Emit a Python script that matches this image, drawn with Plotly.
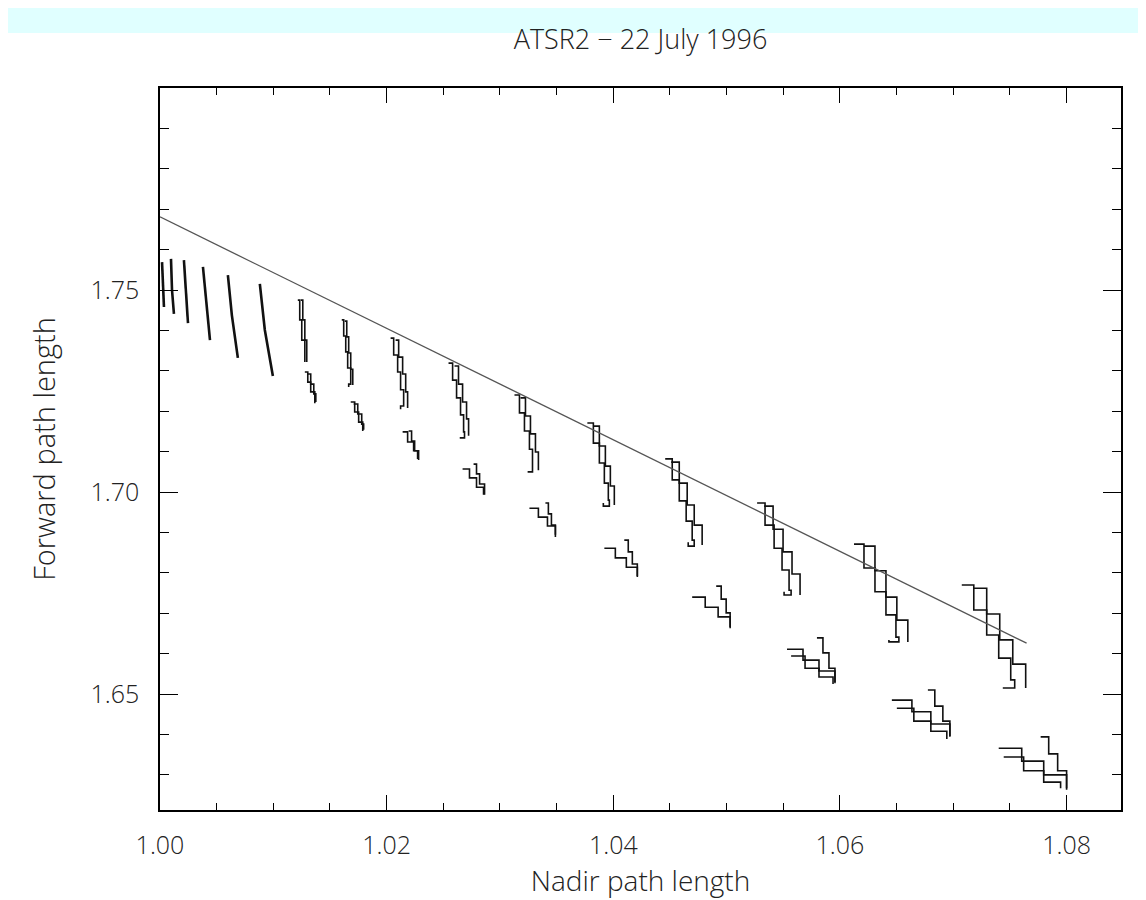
import plotly.graph_objects as go

# ---------------- data ----------------
title_text = "ATSR2 \u2212 22 July 1996"
x_title = "Nadir path length"
y_title = "Forward path length"

x_ticks = [1.00, 1.02, 1.04, 1.06, 1.08]
y_ticks = [1.65, 1.70, 1.75]

# fitted straight line
fit_x = [1.0000, 1.07647]
fit_y = [1.7681, 1.6626]

# early (near-vertical) strokes A-F
early_x = [
    [1.00018, 1.00026, 1.00035],
    [1.00097, 1.00106, 1.00123],
    [1.00211, 1.00229, 1.00247],
    [1.00379, 1.00405, 1.00441],
    [1.00599, 1.00634, 1.00687],
    [1.00881, 1.00925, 1.00996],
]
early_y = [
    [1.7569, 1.7500, 1.7458],
    [1.7577, 1.7500, 1.7441],
    [1.7574, 1.7488, 1.7418],
    [1.7557, 1.7475, 1.7376],
    [1.7537, 1.7438, 1.7332],
    [1.7515, 1.7401, 1.7287],
]

# upper tracks (G..P): first and second staircase
upper_a_x = [
    [1.01216, 1.01233, 1.01251, 1.01278],
    [1.01604, 1.01621, 1.01639, 1.01656, 1.01683, 1.01665],
    [1.02035, 1.02062, 1.02097, 1.02123, 1.02150, 1.02123],
    [1.02546, 1.02582, 1.02617, 1.02652, 1.02679, 1.02687, 1.02652],
    [1.03128, 1.03172, 1.03216, 1.03260, 1.03287, 1.03287, 1.03251],
    [1.03771, 1.03824, 1.03877, 1.03921, 1.03956, 1.03965, 1.03912],
    [1.04458, 1.04520, 1.04582, 1.04643, 1.04696, 1.04714, 1.04661],
    [1.05269, 1.05339, 1.05419, 1.05489, 1.05551, 1.05569, 1.05507],
    [1.06124, 1.06212, 1.06309, 1.06406, 1.06494, 1.06520, 1.06432],
    [1.07075, 1.07181, 1.07295, 1.07401, 1.07507, 1.07542, 1.07437],
]
upper_a_y = [
    [1.7475, 1.7426, 1.7376, 1.7322],
    [1.7426, 1.7386, 1.7347, 1.7307, 1.7267, 1.7260],
    [1.7381, 1.7339, 1.7297, 1.7253, 1.7213, 1.7205],
    [1.7319, 1.7277, 1.7233, 1.7191, 1.7149, 1.7134, 1.7136],
    [1.7240, 1.7196, 1.7151, 1.7106, 1.7067, 1.7050, 1.7052],
    [1.7171, 1.7121, 1.7072, 1.7022, 1.6980, 1.6965, 1.6973],
    [1.7082, 1.7030, 1.6978, 1.6928, 1.6881, 1.6866, 1.6876],
    [1.6973, 1.6918, 1.6861, 1.6807, 1.6757, 1.6745, 1.6753],
    [1.6871, 1.6812, 1.6753, 1.6696, 1.6641, 1.6629, 1.6634],
    [1.6770, 1.6708, 1.6646, 1.6589, 1.6535, 1.6515, 1.6515],
]
upper_b_x = [
    [1.01242, 1.01260, 1.01278, 1.01295],
    [1.01630, 1.01648, 1.01665, 1.01683, 1.01701],
    [1.02079, 1.02106, 1.02141, 1.02168, 1.02185],
    [1.02599, 1.02634, 1.02670, 1.02705, 1.02723],
    [1.03181, 1.03225, 1.03269, 1.03313, 1.03339],
    [1.03824, 1.03877, 1.03930, 1.03974, 1.04009],
    [1.04511, 1.04582, 1.04652, 1.04714, 1.04784],
    [1.05331, 1.05410, 1.05498, 1.05577, 1.05648],
    [1.06212, 1.06309, 1.06406, 1.06502, 1.06599],
    [1.07181, 1.07295, 1.07410, 1.07525, 1.07639],
]
upper_b_y = [
    [1.7475, 1.7426, 1.7376, 1.7322],
    [1.7423, 1.7384, 1.7344, 1.7304, 1.7265],
    [1.7376, 1.7334, 1.7292, 1.7248, 1.7208],
    [1.7312, 1.7267, 1.7223, 1.7181, 1.7139],
    [1.7233, 1.7188, 1.7144, 1.7099, 1.7054],
    [1.7163, 1.7114, 1.7064, 1.7015, 1.6968],
    [1.7074, 1.7022, 1.6968, 1.6918, 1.6869],
    [1.6965, 1.6908, 1.6852, 1.6797, 1.6745],
    [1.6866, 1.6805, 1.6740, 1.6683, 1.6629],
    [1.6762, 1.6698, 1.6634, 1.6574, 1.6515],
]

# lower tracks (G..P): shallow diagonal, steep branch, extra diagonal
lower_a_x = [
    [1.01278, 1.01304, 1.01330, 1.01366],
    [1.01683, 1.01718, 1.01753, 1.01789],
    [1.02141, 1.02185, 1.02238, 1.02282],
    [1.02670, 1.02731, 1.02793, 1.02855],
    [1.03260, 1.03339, 1.03419, 1.03489],
    [1.03921, 1.04018, 1.04115, 1.04212],
    [1.04696, 1.04811, 1.04925, 1.05031],
    [1.05533, 1.05674, 1.05815, 1.05956],
    [1.06458, 1.06635, 1.06802, 1.06970],
    [1.07401, 1.07604, 1.07798, 1.08000],
]
lower_a_y = [
    [1.7297, 1.7272, 1.7248, 1.7220],
    [1.7223, 1.7198, 1.7173, 1.7151],
    [1.7149, 1.7124, 1.7102, 1.7079],
    [1.7057, 1.7035, 1.7012, 1.6993],
    [1.6960, 1.6938, 1.6916, 1.6894],
    [1.6861, 1.6837, 1.6814, 1.6792],
    [1.6740, 1.6715, 1.6691, 1.6666],
    [1.6611, 1.6584, 1.6557, 1.6530],
    [1.6485, 1.6456, 1.6426, 1.6396],
    [1.6366, 1.6334, 1.6300, 1.6267],
]
lower_b_x = [
    [1.01304, 1.01330, 1.01357, 1.01375],
    [1.01709, 1.01745, 1.01780, 1.01797],
    [1.02194, 1.02220, 1.02247, 1.02273],
    [1.02767, 1.02793, 1.02820, 1.02864],
    [1.03401, 1.03427, 1.03454, 1.03489],
    [1.04097, 1.04132, 1.04168, 1.04212],
    [1.04908, 1.04952, 1.04996, 1.05031],
    [1.05797, 1.05850, 1.05903, 1.05956],
    [1.06776, 1.06837, 1.06908, 1.06970],
    [1.07771, 1.07842, 1.07921, 1.08000],
]
lower_b_y = [
    [1.7292, 1.7267, 1.7243, 1.7223],
    [1.7218, 1.7193, 1.7168, 1.7154],
    [1.7151, 1.7126, 1.7102, 1.7082],
    [1.7069, 1.7045, 1.7020, 1.6993],
    [1.6973, 1.6946, 1.6918, 1.6889],
    [1.6881, 1.6852, 1.6822, 1.6790],
    [1.6767, 1.6735, 1.6701, 1.6663],
    [1.6639, 1.6602, 1.6564, 1.6527],
    [1.6510, 1.6470, 1.6433, 1.6394],
    [1.6394, 1.6352, 1.6310, 1.6263],
]
lower_c_x = [
    [1.05569, 1.05692, 1.05815, 1.05939],
    [1.06502, 1.06652, 1.06802, 1.06943],
    [1.07445, 1.07621, 1.07798, 1.07947],
]
lower_c_y = [
    [1.6594, 1.6564, 1.6542, 1.6525],
    [1.6465, 1.6433, 1.6408, 1.6389],
    [1.6344, 1.6310, 1.6282, 1.6267],
]

# ---------------- figure ----------------
FONT = "Open Sans, DejaVu Sans, sans-serif"
INK = "#111111"
TXT = "#222222"

fig = go.Figure()

for xs, ys in zip(early_x, early_y):
    fig.add_trace(go.Scatter(x=xs, y=ys, mode="lines",
                             line=dict(color=INK, width=2.6),
                             showlegend=False, hoverinfo="skip"))

for group_x, group_y in [(upper_a_x, upper_a_y), (upper_b_x, upper_b_y),
                         (lower_a_x, lower_a_y), (lower_b_x, lower_b_y),
                         (lower_c_x, lower_c_y)]:
    for xs, ys in zip(group_x, group_y):
        fig.add_trace(go.Scatter(x=xs, y=ys, mode="lines",
                                 line=dict(color=INK, width=1.6, shape="hv"),
                                 showlegend=False, hoverinfo="skip"))

fig.add_trace(go.Scatter(x=fit_x, y=fit_y, mode="lines",
                         line=dict(color="#555555", width=1.3),
                         showlegend=False, hoverinfo="skip"))

axis_common = dict(
    showgrid=False, zeroline=False, showline=True, mirror="allticks",
    linecolor="black", linewidth=1.5, ticks="inside", tickcolor="black",
    tickwidth=1, tickformat=".2f",
    tickfont=dict(family=FONT, size=25, color=TXT, weight=300),
)

fig.update_layout(
    width=1138, height=892,
    paper_bgcolor="white", plot_bgcolor="white",
    margin=dict(l=152, r=25, t=80, b=90, autoexpand=False),
    title=dict(text=title_text, x=0.5, xref="paper", xanchor="center",
               y=1 - 32 / 892, yref="container", yanchor="middle",
               font=dict(family=FONT, size=27, color=TXT, weight=300)),
    xaxis=dict(range=[1.0, 1.0848], tickvals=x_ticks, ticklen=15,
               minor=dict(dtick=0.005, tick0=1.0, ticklen=7, ticks="inside",
                          tickcolor="black", tickwidth=1),
               ticklabelstandoff=12,
               title=dict(text=x_title, standoff=2,
                          font=dict(family=FONT, size=28, color=TXT, weight=300)),
               **axis_common),
    yaxis=dict(range=[1.6213, 1.80], tickvals=y_ticks, ticklen=18,
               minor=dict(dtick=0.01, tick0=1.6, ticklen=9, ticks="inside",
                          tickcolor="black", tickwidth=1),
               ticklabelstandoff=14,
               title=dict(text=y_title, standoff=26,
                          font=dict(family=FONT, size=29, color=TXT, weight=300)),
               **axis_common),
    shapes=[dict(type="rect", xref="paper", yref="paper",
                 x0=-0.3, x1=1.2, y0=1.0762, y1=1.3,
                 fillcolor="#E0FFFF", line=dict(width=0), layer="below")],
)

fig.write_html("out.html")
